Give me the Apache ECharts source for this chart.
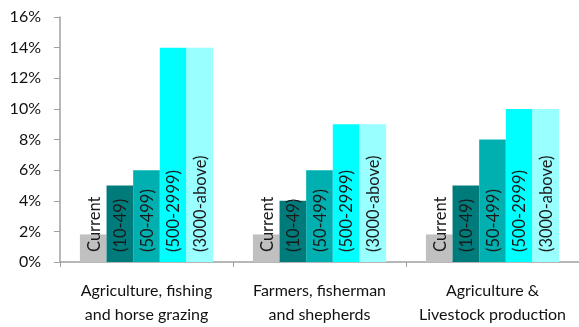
<!DOCTYPE html>
<html>
<head>
<meta charset="utf-8">
<script src="https://cdn.jsdelivr.net/npm/echarts@6/dist/echarts.min.js"></script>
<style>
  html, body { margin: 0; padding: 0; background: #fff; }
  #chart { width: 579px; height: 327px; }
</style>
</head>
<body>
<div id="chart"></div>
<script>
// Sector groups along the x axis
var categories = [
  'Agriculture, fishing\nand horse grazing',
  'Farmers, fisherman\nand shepherds',
  'Agriculture &\nLivestock production'
];

// Share (%) per enterprise size band
var seriesNames = ['Current', '(10-49)', '(50-499)', '(500-2999)', '(3000-above)'];
var currentVals = [1.8, 1.8, 1.8];
var size10to49 = [5, 4, 5];
var size50to499 = [6, 6, 8];
var size500to2999 = [14, 9, 10];
var size3000up = [14, 9, 10];

var yTicks = { min: 0, max: 16, interval: 2 };

var colors = ['#C0C0C0', '#007B7B', '#00AFAF', '#00FFFF', '#99FFFF'];
var allValues = [currentVals, size10to49, size50to499, size500to2999, size3000up];

var font = 'Lato, "Open Sans", sans-serif';

var series = allValues.map(function (vals, i) {
  return {
    name: seriesNames[i],
    type: 'bar',
    data: vals,
    barGap: '0%',
    barCategoryGap: '23%',
    itemStyle: { color: colors[i] },
    label: {
      show: true,
      position: 'insideBottom',
      rotate: 90,
      align: 'left',
      verticalAlign: 'middle',
      distance: 10,
      offset: [0, 1],
      formatter: seriesNames[i],
      color: '#1a1a1a',
      fontFamily: font,
      fontSize: 16.5
    }
  };
});

var chart = echarts.init(document.getElementById('chart'));
chart.setOption({
  animation: false,
  grid: { left: 60, right: 0, top: 17, bottom: 64 },
  xAxis: {
    type: 'category',
    data: categories,
    axisLine: { lineStyle: { color: '#A0A0A0', width: 1.5 } },
    axisTick: { show: true, length: 5, lineStyle: { color: '#A0A0A0' } },
    axisLabel: {
      interval: 0,
      hideOverlap: false,
      color: '#111',
      fontFamily: font,
      fontSize: 16,
      lineHeight: 24,
      margin: 17
    }
  },
  yAxis: {
    type: 'value',
    min: yTicks.min,
    max: yTicks.max,
    interval: yTicks.interval,
    axisLine: { show: true, lineStyle: { color: '#A0A0A0', width: 1.5 } },
    axisTick: { show: true, length: 6, lineStyle: { color: '#A0A0A0' } },
    splitLine: { show: false },
    axisLabel: {
      formatter: '{value}%',
      color: '#111',
      fontFamily: font,
      fontSize: 16,
      margin: 19
    }
  },
  series: series
});
</script>
</body>
</html>
